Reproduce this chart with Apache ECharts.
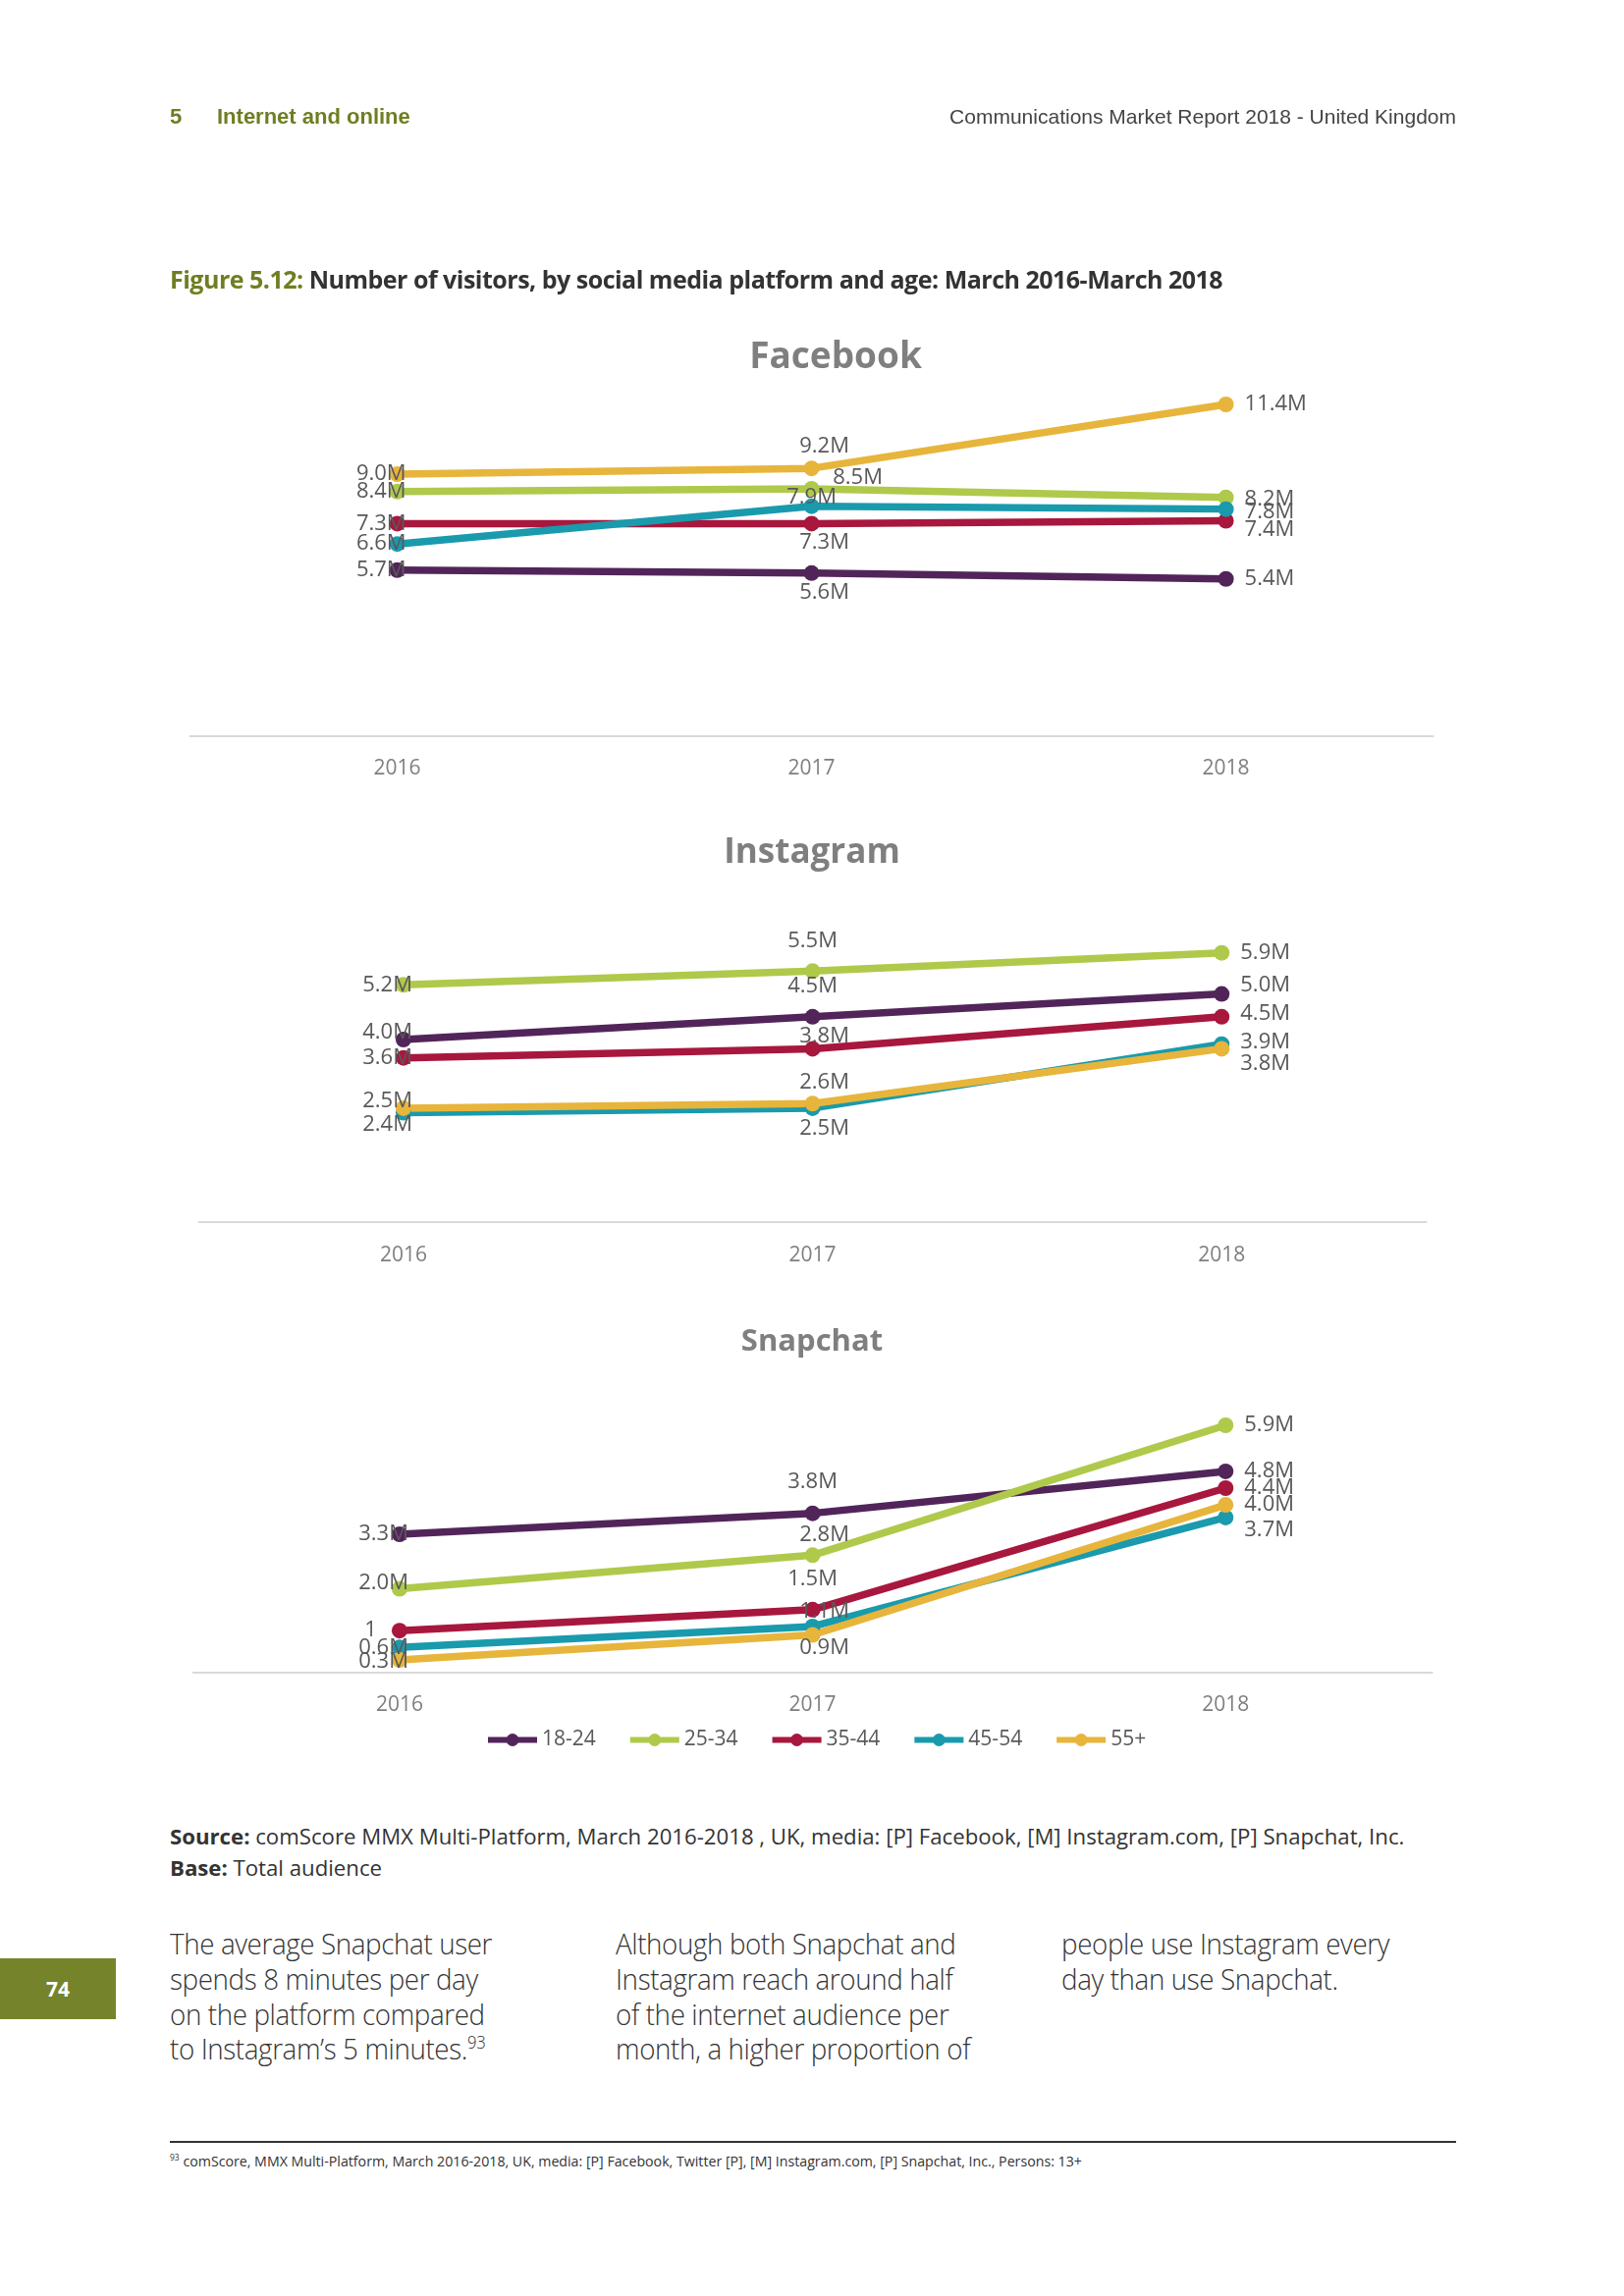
<!DOCTYPE html>
<html><head><meta charset="utf-8">
<script src="https://cdn.jsdelivr.net/npm/echarts@6/dist/echarts.min.js"></script>
<style>
html,body{margin:0;padding:0;background:#fff;}
body{width:1654px;height:2339px;position:relative;overflow:hidden;font-family:"Open Sans",sans-serif;color:#333;}
#chart{position:absolute;left:0;top:0;width:1654px;height:1840px;}
.abs{position:absolute;white-space:nowrap;z-index:2;}
.hdr{font-family:"Liberation Sans Narrow","Liberation Sans",sans-serif;font-size:21px;line-height:24px;}
.olive{color:#6e7f22;}
.figtitle{left:173px;top:268px;font-size:25px;line-height:32px;font-weight:700;color:#333;letter-spacing:-0.5px;}
.src{left:173px;font-size:22.2px;line-height:28px;color:#333;letter-spacing:0px;}
.body{font-size:30px;line-height:35.75px;font-weight:300;color:#333;letter-spacing:-0.4px;transform:scaleX(0.925);transform-origin:left top;}
.pagebox{left:0;top:1995px;width:118px;height:62px;background:#75842b;color:#fff;font-weight:700;font-size:21px;line-height:62px;text-align:center;}
.rule{left:173px;top:2181px;width:1310px;height:2px;background:#333;}
.foot{left:173px;top:2193px;font-size:14.2px;line-height:18px;color:#333;}
sup{font-size:60%;line-height:0;}
</style></head><body>
<div id="chart"></div>

<div class="abs hdr olive" style="left:173px;top:107px;font-weight:700;font-size:22px;">5</div>
<div class="abs hdr olive" style="left:221px;top:107px;font-weight:700;font-size:22px;">Internet and online</div>
<div class="abs hdr" style="right:171px;top:107px;color:#444;">Communications Market Report 2018 - United Kingdom</div>

<div class="abs figtitle"><span class="olive">Figure 5.12:</span> Number of visitors, by social media platform and age: March 2016-March 2018</div>

<div class="abs src" style="top:1857px;"><b>Source:</b> comScore MMX Multi-Platform, March 2016-2018 , UK, media: [P] Facebook, [M] Instagram.com, [P] Snapchat, Inc.</div>
<div class="abs src" style="top:1889px;"><b>Base:</b> Total audience</div>

<div class="abs body" style="left:173px;top:1962px;">The average Snapchat user<br>spends 8 minutes per day<br>on the platform compared<br>to Instagram’s 5 minutes.<sup>93</sup></div>
<div class="abs body" style="left:627px;top:1962px;">Although both Snapchat and<br>Instagram reach around half<br>of the internet audience per<br>month, a higher proportion of</div>
<div class="abs body" style="left:1081px;top:1962px;">people use Instagram every<br>day than use Snapchat.</div>

<div class="abs pagebox">74</div>
<div class="abs rule"></div>
<div class="abs foot"><sup>93</sup> comScore, MMX Multi-Platform, March 2016-2018, UK, media: [P] Facebook, Twitter [P], [M] Instagram.com, [P] Snapchat, Inc., Persons: 13+</div>

<script>
// ---------- DATA ----------
const years = ['2016', '2017', '2018'];
const ageGroups = ['18-24', '25-34', '35-44', '45-54', '55+'];
const platformTitles = ['Facebook', 'Instagram', 'Snapchat'];

const facebook_18_24 = [5.7, 5.6, 5.4];
const facebook_25_34 = [8.4, 8.5, 8.2];
const facebook_35_44 = [7.3, 7.3, 7.4];
const facebook_45_54 = [6.6, 7.9, 7.8];
const facebook_55p   = [9.0, 9.2, 11.4];

const instagram_18_24 = [4.0, 4.5, 5.0];
const instagram_25_34 = [5.2, 5.5, 5.9];
const instagram_35_44 = [3.6, 3.8, 4.5];
const instagram_45_54 = [2.4, 2.5, 3.9];
const instagram_55p   = [2.5, 2.6, 3.8];

const snapchat_18_24 = [3.3, 3.8, 4.8];
const snapchat_25_34 = [2.0, 2.8, 5.9];
const snapchat_35_44 = [1.0, 1.5, 4.4];
const snapchat_45_54 = [0.6, 1.1, 3.7];
const snapchat_55p   = [0.3, 0.9, 4.0];
// label text as printed in the source where it differs from the default format
const snapchatLabelText_35_44 = ['1', null, null];

// ---------- STYLE / LAYOUT ----------
const colors = ['#52255a', '#afc94b', '#a8173d', '#1a9aad', '#e7b53b'];
const grids = [
  {left: 193.6, top: 394.2, width: 1266, height: 355.5, max: 12},
  {left: 202.6, top: 919.5, width: 1250, height: 325.7, max: 7},
  {left: 196.6, top: 1405, width: 1262, height: 298.9, max: 7}
];
const titlePos = [[851, 364, 37], [827, 869, 35], [827, 1367, 31]];

// label placement per chart, per series: [start dy, middle [pos, dx, dy], end dy]
const labelPlace = [
  [ [0, ['bottom', 13, -3], 0],
    [0, ['top', 47, 12], 2],
    [0, ['bottom', 13, -4], 9],
    [0, ['top', 0, 14], 3],
    [0, ['top', 13, 1], 0] ],
  [ [-7, ['top', 0, -8], -9],
    [0, ['top', 0, -8], 0],
    [0, ['top', 12, 10], -3],
    [12, ['bottom', 12, -2], -2],
    [-7, ['top', 12, 2], 15] ],
  [ [0, ['top', 0, -9], 0],
    [-6, ['top', 12, 2], 0],
    [0, ['top', 0, -8], 0],
    [0, ['top', 12, 8], 13],
    [2, ['bottom', 12, -10], 0] ]
];

const platformSeries = [
  [facebook_18_24, facebook_25_34, facebook_35_44, facebook_45_54, facebook_55p],
  [instagram_18_24, instagram_25_34, instagram_35_44, instagram_45_54, instagram_55p],
  [snapchat_18_24, snapchat_25_34, snapchat_35_44, snapchat_45_54, snapchat_55p]
];
const labelOverrides = {'2-2': snapchatLabelText_35_44};

const labelFont = {fontFamily: '"Open Sans", sans-serif', fontSize: 22, color: '#595959'};

const series = [];
platformSeries.forEach((group, g) => {
  group.forEach((vals, s) => {
    const place = labelPlace[g][s];
    const override = labelOverrides[g + '-' + s];
    const data = vals.map((v, i) => {
      let label;
      if (i === 0) label = {position: 'left', distance: 5, offset: [22, place[0]]};
      else if (i === 1) label = {position: place[1][0], distance: 4, offset: [place[1][1], place[1][2]]};
      else label = {position: 'right', distance: 11, offset: [0, place[2]]};
      if (override && override[i] != null) {
        label.formatter = override[i];
        label.offset = [-10, label.offset[1]];
      }
      return {value: v, label};
    });
    series.push({
      type: 'line', name: ageGroups[s], xAxisIndex: g, yAxisIndex: g,
      data, color: colors[s], symbol: 'circle', symbolSize: 16,
      lineStyle: {width: 7.5, color: colors[s]},
      itemStyle: {color: colors[s]},
      label: Object.assign({show: true, formatter: p => p.value.toFixed(1) + 'M'}, labelFont),
      emphasis: {disabled: true}
    });
  });
});

const chart = echarts.init(document.getElementById('chart'), null, {renderer: 'canvas'});
chart.setOption({
  animation: false,
  graphic: platformTitles.map((t, i) => ({
    type: 'text', x: titlePos[i][0], y: titlePos[i][1],
    style: {text: t, fill: '#7f7f7f', align: 'center', verticalAlign: 'middle',
      font: 'bold ' + titlePos[i][2] + 'px "Open Sans", sans-serif'}
  })),
  grid: grids.map(g => ({left: g.left, top: g.top, width: g.width, height: g.height, containLabel: false})),
  xAxis: grids.map((g, i) => ({
    type: 'category', gridIndex: i, data: years, boundaryGap: true,
    axisLine: {show: true, lineStyle: {color: '#d9d9d9', width: 2}},
    axisTick: {show: false},
    axisLabel: {margin: 23, fontSize: 21, color: '#7f7f7f', fontFamily: '"Open Sans", sans-serif'}
  })),
  yAxis: grids.map((g, i) => ({
    type: 'value', gridIndex: i, min: 0, max: g.max, show: false,
    splitLine: {show: false}
  })),
  legend: {
    data: ageGroups, top: 1762, left: 494, padding: 0,
    itemWidth: 50, itemHeight: 16, itemGap: 32,
    lineStyle: {width: 6},
    textStyle: {fontSize: 21, color: '#595959', fontFamily: '"Open Sans", sans-serif'}
  },
  series
});
</script>
</body></html>
